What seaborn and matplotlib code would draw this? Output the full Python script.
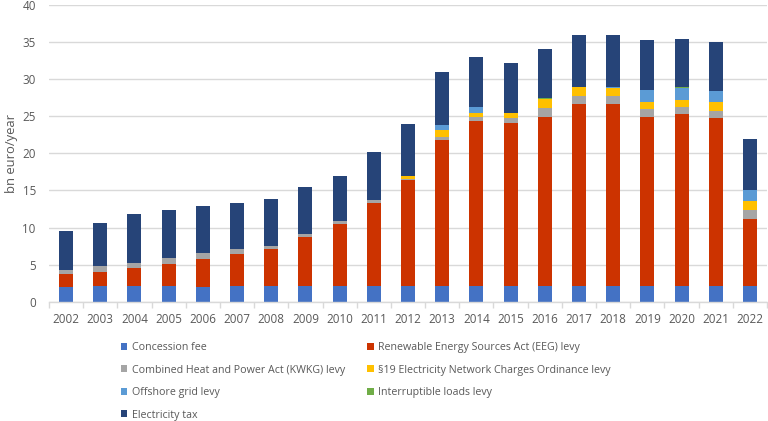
import numpy as np
import pandas as pd
import matplotlib
matplotlib.use("Agg")
import matplotlib.pyplot as plt
from matplotlib.patches import Patch
import seaborn as sns

years = [str(y) for y in range(2002, 2023)]

concession = [2.0, 2.05, 2.1, 2.1, 2.0, 2.05, 2.1, 2.1, 2.1, 2.05, 2.1, 2.05, 2.1, 2.1, 2.1, 2.05, 2.1, 2.05, 2.05, 2.05, 2.05]
eeg = [1.7, 2.0, 2.4, 3.0, 3.75, 4.35, 4.95, 6.6, 8.35, 11.3, 14.3, 19.8, 22.3, 22.0, 22.85, 24.6, 24.6, 22.9, 23.3, 22.7, 9.05]
kwkg = [0.6, 0.7, 0.75, 0.8, 0.85, 0.67, 0.45, 0.45, 0.4, 0.3, 0.12, 0.4, 0.45, 0.64, 1.22, 1.08, 1.0, 1.07, 0.86, 0.9, 1.22]
s19 = [0, 0, 0, 0, 0, 0, 0, 0, 0, 0, 0.45, 0.85, 0.62, 0.71, 1.21, 1.18, 1.16, 0.95, 1.02, 1.21, 1.29]
offshore = [0, 0, 0, 0, 0, 0, 0, 0, 0, 0, 0, 0.7, 0.81, 0, 0, 0, 0.05, 1.58, 1.62, 1.49, 1.4]
interruptible = [0, 0, 0, 0, 0, 0, 0, 0, 0, 0, 0, 0.02, 0.03, 0.03, 0.03, 0.03, 0.03, 0.03, 0.03, 0.03, 0.01]
tax = [5.2, 5.9, 6.6, 6.5, 6.3, 6.3, 6.35, 6.25, 6.15, 6.5, 6.95, 7.1, 6.65, 6.65, 6.6, 7.0, 7.05, 6.7, 6.55, 6.65, 6.9]

labels = [
    "Concession fee",
    "Renewable Energy Sources Act (EEG) levy",
    "Combined Heat and Power Act (KWKG) levy",
    "§19 Electricity Network Charges Ordinance levy",
    "Offshore grid levy",
    "Interruptible loads levy",
    "Electricity tax",
]
series = [concession, eeg, kwkg, s19, offshore, interruptible, tax]
colors = ["#4472C4", "#CC3300", "#A5A5A5", "#FFC000", "#5B9BD5", "#70AD47", "#264478"]

sns.set_theme(style="white")
plt.rcParams["font.family"] = ["Open Sans", "DejaVu Sans"]

fig = plt.figure(figsize=(7.68, 4.21), dpi=100)
ax = fig.add_axes([49 / 768, 1 - 301.7 / 421, (767 - 49) / 768, (301.7 - 5) / 421])

bottom = np.zeros(len(years))
for vals, col in zip(series, colors):
    v = np.array(vals, dtype=float)
    sns.barplot(x=years, y=v, bottom=bottom, color=col, width=0.41,
                saturation=1, ax=ax, linewidth=0)
    bottom = bottom + v

ax.set_ylim(0, 40)
ax.set_xlim(-0.5, len(years) - 0.5)
ax.set_yticks(np.arange(0, 41, 5))
ax.yaxis.grid(True, color="#D9D9D9", linewidth=1)
ax.set_axisbelow(True)
for s in ["top", "right", "left"]:
    ax.spines[s].set_visible(False)
ax.spines["bottom"].set_color("#D9D9D9")
ax.spines["bottom"].set_linewidth(1)

ax.set_xticks(np.arange(-0.5, len(years), 1), minor=True)
ax.tick_params(axis="x", which="major", length=0, pad=8, labelsize=8.4, labelcolor="#595959")
ax.tick_params(axis="x", which="minor", length=4, color="#D9D9D9", width=1, bottom=True)
ax.tick_params(axis="y", length=0, pad=9.5, labelsize=8.4, labelcolor="#595959")
ax.set_xlabel("")
ax.set_ylabel("bn euro/year", fontsize=9.4, color="#595959")
ax.yaxis.set_label_coords((18 - 49) / 718, 0.5)

handles = [Patch(facecolor=c, edgecolor="none") for c in colors]
order = [0, 2, 4, 6, 1, 3, 5]
fig.legend([handles[i] for i in order], [labels[i] for i in order],
           ncol=2, frameon=False, loc="upper left",
           bbox_to_anchor=(121 / 768, 1 - 342 / 421),
           fontsize=7.7, labelcolor="#595959",
           handlelength=0.6, handleheight=0.6, handletextpad=0.4,
           columnspacing=2.1, labelspacing=1.08, borderpad=0, borderaxespad=0)

fig.savefig("out.png", dpi=100)
